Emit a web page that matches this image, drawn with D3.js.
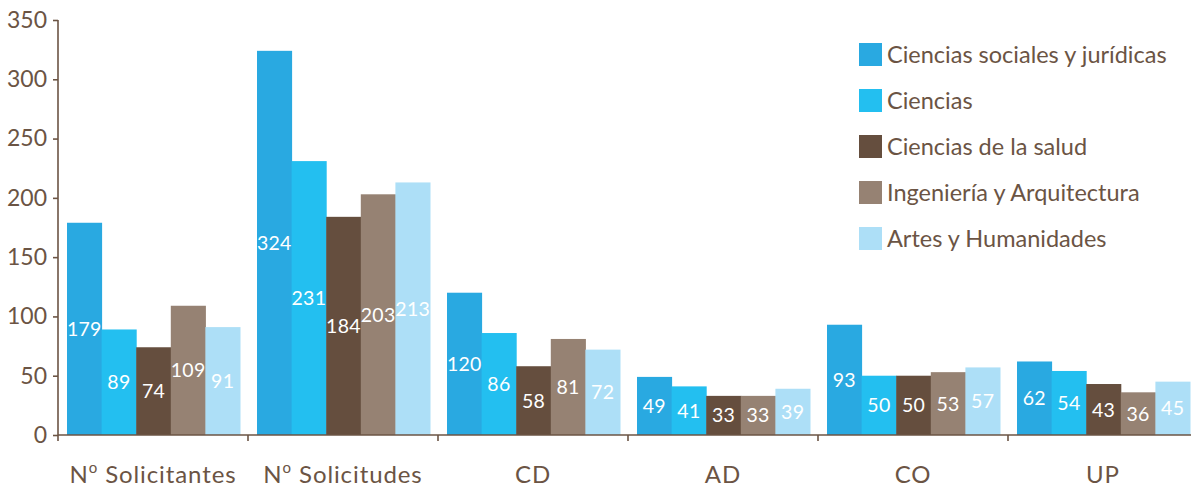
<!DOCTYPE html>
<html><head><meta charset="utf-8">
<script src="https://cdn.jsdelivr.net/npm/d3@7"></script>
<style>body{margin:0;background:#fff}svg{display:block}text{font-family:Lato,"Open Sans",sans-serif}</style>
</head><body><svg id="c" width="1191" height="492"></svg>
<script>
const categories = ["Nº Solicitantes","Nº Solicitudes","CD","AD","CO","UP"];
const seriesNames = ["Ciencias sociales y jurídicas","Ciencias","Ciencias de la salud","Ingeniería y Arquitectura","Artes y Humanidades"];
const cienciasSociales = [179,324,120,49,93,62];
const ciencias = [89,231,86,41,50,54];
const cienciasSalud = [74,184,58,33,50,43];
const ingenieria = [109,203,81,33,53,36];
const artes = [91,213,72,39,57,45];
const yTicks = [0,50,100,150,200,250,300,350];
const colors = ["#29a9e1","#23bff0","#654e3e","#968273","#addff7"];
const seriesValues = [cienciasSociales,ciencias,cienciasSalud,ingenieria,artes];
const ink = "#6b5444";

const svg = d3.select("#c");
const x0 = 58, yBase = 435;
const x = d3.scaleBand().domain(categories).range([x0, x0 + 190*6]).paddingInner(0);
const xs = d3.scaleBand().domain(d3.range(5)).range([9, 182]).padding(0);
const y = d3.scaleLinear().domain([0,350]).range([yBase, 20]);

// bars
const data = [];
categories.forEach((c,i)=>seriesValues.forEach((s,j)=>data.push({c, j, v:s[i]})));
svg.append("g").selectAll("rect").data(data).join("rect")
  .attr("x", d=>x(d.c)+xs(d.j)).attr("width", xs.bandwidth()+0.5)
  .attr("y", d=>y(d.v)).attr("height", d=>yBase - y(d.v))
  .attr("fill", d=>colors[d.j]);
svg.append("g").selectAll("text").data(data).join("text")
  .attr("x", d=>x(d.c)+xs(d.j)+xs.bandwidth()/2)
  .attr("y", d=>(y(d.v)+yBase)/2)
  .attr("dy","0.36em").attr("text-anchor","middle")
  .attr("fill","#fff").attr("font-size",19.5).attr("letter-spacing",0.3).text(d=>d.v);

// y axis
const ya = svg.append("g").attr("transform",`translate(${x0},0)`)
  .call(d3.axisLeft(y).tickValues(yTicks).tickSize(5).tickPadding(6));
ya.select(".domain").attr("stroke",ink).attr("stroke-width",1.6).attr("d",`M-0,${y(350)}V${yBase}`);
ya.selectAll(".tick line").attr("stroke",ink).attr("stroke-width",1.6);
ya.selectAll(".tick text").attr("fill",ink).attr("font-size",23).attr("font-family","Lato,sans-serif");

// x axis
const xa = svg.append("g");
xa.append("line").attr("x1",x0).attr("x2",1191).attr("y1",yBase).attr("y2",yBase).attr("stroke",ink).attr("stroke-width",1.6);
xa.selectAll("line.t").data(categories).join("line").attr("class","t")
  .attr("x1",d=>x(d)).attr("x2",d=>x(d)).attr("y1",yBase).attr("y2",yBase+6).attr("stroke",ink).attr("stroke-width",1.6);
const cl = xa.selectAll("text").data(categories).join("text")
  .attr("x",d=>x(d)+x.bandwidth()/2).attr("y",483).attr("text-anchor","middle")
  .attr("fill",ink).attr("font-size",24).attr("letter-spacing",0.9);
cl.each(function(d){
  const t = d3.select(this);
  if (d.startsWith("Nº")) {
    t.append("tspan").text("N");
    t.append("tspan").attr("font-size",15).attr("dy",-10).text("o");
    t.append("tspan").attr("dy",10).text(d.slice(2));
  } else t.text(d);
});

// legend
const lg = svg.append("g").selectAll("g").data(seriesNames).join("g")
  .attr("transform",(d,i)=>`translate(859,${43+i*46})`);
lg.append("rect").attr("width",23).attr("height",23).attr("fill",(d,i)=>colors[i]);
lg.append("text").attr("x",28).attr("y",11.5).attr("dy","0.36em").attr("fill",ink).attr("font-size",23.5).text(d=>d);
</script></body></html>
